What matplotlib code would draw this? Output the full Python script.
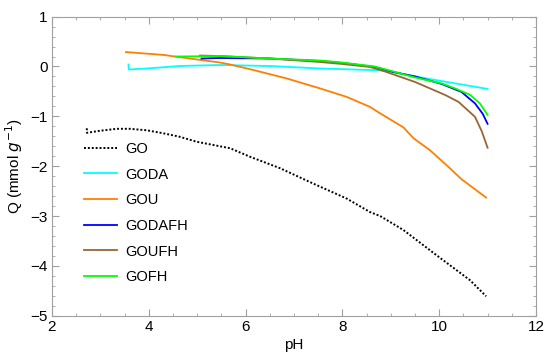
import matplotlib
matplotlib.use("Agg")
import matplotlib.pyplot as plt
from matplotlib.ticker import MultipleLocator

plt.rcParams['font.family'] = ['Liberation Sans', 'DejaVu Sans']

go_x = [2.72, 2.72, 2.99, 3.34, 3.61, 3.96, 4.30, 4.64, 4.99, 5.68, 6.09, 6.71, 7.40, 8.09, 8.57, 8.78, 9.26, 9.95, 10.64, 10.97]
go_y = [-1.24, -1.33, -1.29, -1.25, -1.25, -1.28, -1.34, -1.41, -1.51, -1.64, -1.81, -2.04, -2.35, -2.65, -2.92, -3.00, -3.28, -3.79, -4.29, -4.61]

goda_x = [3.58, 3.59, 3.96, 4.64, 5.47, 6.5, 7.54, 8.57, 8.88, 9.74, 11.0]
goda_y = [0.04, -0.06, -0.04, 0.01, 0.03, 0.01, -0.04, -0.07, -0.08, -0.24, -0.45]

gou_x = [3.53, 4.33, 4.54, 5.47, 5.68, 6.16, 6.85, 7.54, 8.09, 8.57, 8.78, 9.26, 9.47, 9.81, 10.22, 10.46, 10.97]
gou_y = [0.29, 0.23, 0.20, 0.08, 0.04, -0.07, -0.24, -0.44, -0.61, -0.81, -0.94, -1.22, -1.44, -1.68, -2.04, -2.26, -2.63]

godafh_x = [5.09, 5.47, 6.5, 7.54, 8.0, 8.67, 9.05, 9.5, 10.05, 10.46, 10.74, 10.9, 11.0]
godafh_y = [0.16, 0.17, 0.16, 0.11, 0.07, -0.01, -0.11, -0.20, -0.35, -0.51, -0.74, -0.95, -1.15]

goufh_x = [5.06, 5.47, 6.5, 7.54, 8.0, 8.57, 8.88, 9.5, 10.12, 10.40, 10.74, 10.88, 11.0]
goufh_y = [0.22, 0.21, 0.16, 0.09, 0.05, -0.01, -0.10, -0.31, -0.57, -0.71, -1.01, -1.30, -1.63]

gofh_x = [4.55, 5.47, 6.5, 7.54, 8.0, 8.67, 9.05, 9.5, 10.05, 10.33, 10.64, 10.84, 11.0]
gofh_y = [0.20, 0.21, 0.16, 0.12, 0.08, 0.00, -0.10, -0.22, -0.34, -0.44, -0.57, -0.74, -0.97]

fig = plt.figure(figsize=(5.5, 3.59), dpi=100)
ax = fig.add_axes([0.0945, 0.1206, 0.88, 0.833])

ax.plot(go_x, go_y, color='black', lw=1.4, linestyle=(0, (1, 1)), label='GO')
ax.plot(goda_x, goda_y, color='#00FFFF', lw=1.3, label='GODA')
ax.plot(gou_x, gou_y, color='#FF7F00', lw=1.3, label='GOU')
ax.plot(godafh_x, godafh_y, color='#0000FF', lw=1.3, label='GODAFH')
ax.plot(goufh_x, goufh_y, color='#996633', lw=1.3, label='GOUFH')
ax.plot(gofh_x, gofh_y, color='#00FF00', lw=1.3, label='GOFH')

ax.set_xlim(2, 12)
ax.set_ylim(-5, 1)
ax.xaxis.set_minor_locator(MultipleLocator(0.5))
ax.yaxis.set_minor_locator(MultipleLocator(0.2))
ax.set_xticks([2, 4, 6, 8, 10, 12])
ax.set_xticklabels(['2', '4', '6', '8', '10', '12'])
ax.set_yticks([-5, -4, -3, -2, -1, 0, 1])
ax.set_yticklabels(['\u22125', '\u22124', '\u22123', '\u22122', '\u22121', '0', '1'])

for s in ax.spines.values():
    s.set_color('#A0A0A0')
    s.set_linewidth(0.8)
ax.tick_params(which='both', direction='in', top=True, right=True, color='#A0A0A0', labelsize=11, labelcolor='black')
ax.tick_params(which='major', length=5, width=0.8, pad=3)
ax.tick_params(which='minor', length=2.5, width=0.6)

ax.set_xlabel('pH', fontsize=11, labelpad=3)
ax.set_ylabel(r'Q (mmol $\mathit{g}^{-1}$)', fontsize=11)

leg = ax.legend(loc='upper left', bbox_to_anchor=(0.04, 0.625), frameon=False,
                fontsize=10.5, handlelength=2.2, handletextpad=0.6, labelspacing=0.8)

fig.savefig('out.png', dpi=100)
